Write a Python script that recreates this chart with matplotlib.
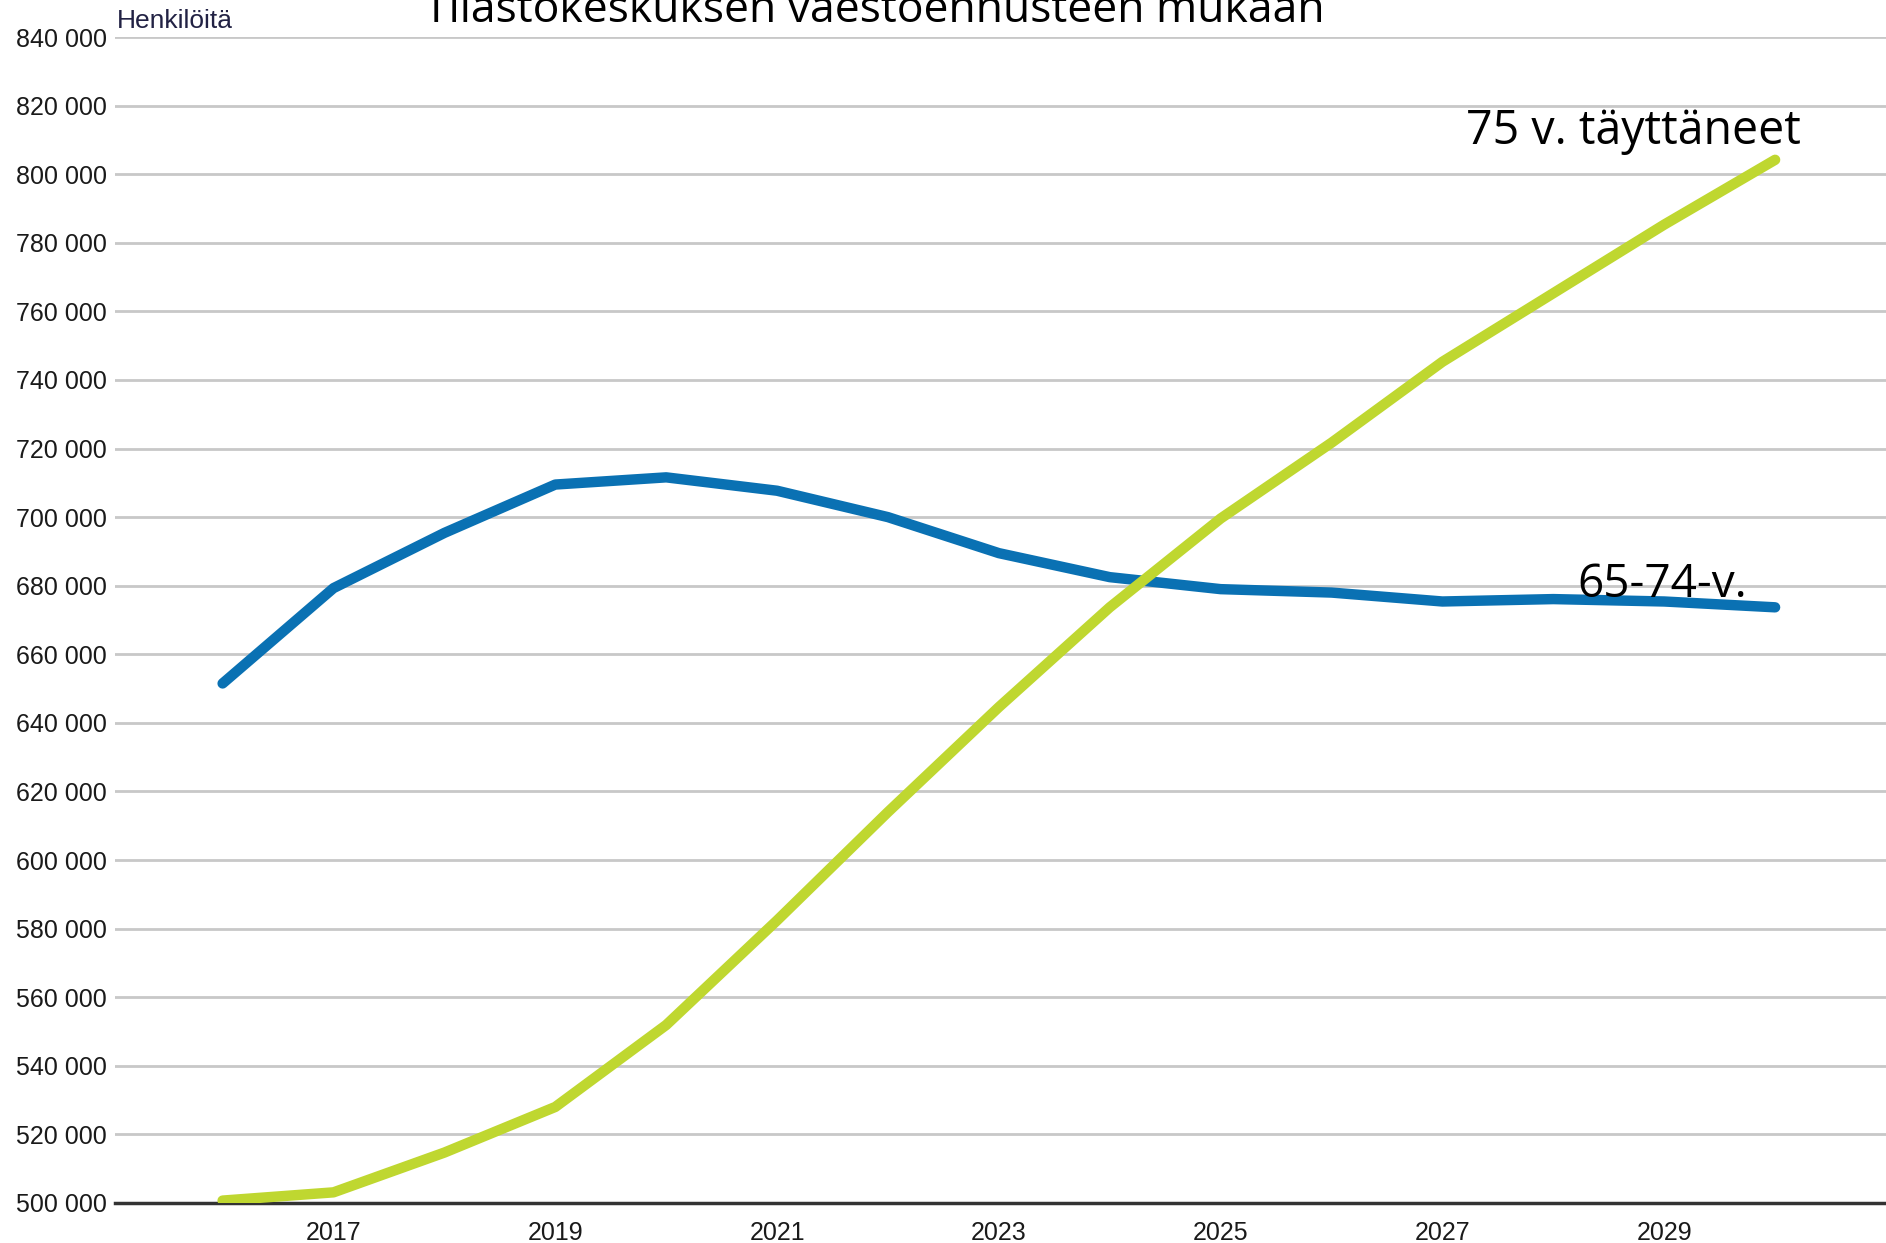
import matplotlib
matplotlib.use("Agg")
import matplotlib.pyplot as plt
from matplotlib.ticker import FuncFormatter

years = [2016, 2017, 2018, 2019, 2020, 2021, 2022, 2023,
         2024, 2025, 2026, 2027, 2028, 2029, 2030]
age_65_74 = [651500, 679300, 695400, 709500, 711600, 707700, 700000, 689500,
             682500, 679000, 678000, 675400, 676100, 675400, 673700]
age_75_plus = [500700, 503100, 514700, 528000, 551900, 582400, 614000, 644600,
               673700, 699600, 721700, 745300, 765300, 785300, 804200]
year_ticks = [2017, 2019, 2021, 2023, 2025, 2027, 2029]
y_ticks = list(range(500000, 840001, 20000))

blue = "#0a71b3"
green = "#bfd730"
tick_font = ["Liberation Sans", "DejaVu Sans"]
label_font = ["Open Sans", "DejaVu Sans"]

fig = plt.figure(figsize=(18.86, 12.43), dpi=100)
ax = fig.add_axes([0.061, 0.0322, 0.939, 0.938])

ax.plot(years, age_65_74, color=blue, linewidth=7.5, solid_capstyle="round",
        solid_joinstyle="round", zorder=3)
ax.plot(years, age_75_plus, color=green, linewidth=7.5, solid_capstyle="round",
        solid_joinstyle="round", zorder=3)

ax.set_xlim(2015.03, 2031.0)
ax.set_ylim(500000, 840000)
ax.set_yticks(y_ticks)
ax.set_xticks(year_ticks)
ax.yaxis.set_major_formatter(FuncFormatter(lambda v, p: f"{int(v):,}".replace(",", " ")))
ax.grid(axis="y", color="#c8c8c8", linewidth=2)
ax.set_axisbelow(True)

for s in ["top", "right", "left"]:
    ax.spines[s].set_visible(False)
ax.spines["bottom"].set_color("#333333")
ax.spines["bottom"].set_linewidth(2.5)
ax.tick_params(axis="both", length=0, labelcolor="#1a1a1a")
ax.tick_params(axis="y", pad=6)
ax.tick_params(axis="x", pad=13)
for lab in ax.get_yticklabels() + ax.get_xticklabels():
    lab.set_family(tick_font)
    lab.set_fontsize(18)

fig.text(117 / 1886, 1 - 21 / 1243, "Henkilöitä", family=tick_font, fontsize=19,
         color="#222244", ha="left", va="center")
fig.text(874 / 1886, 1 - 22 / 1243, "Tilastokeskuksen väestöennusteen mukaan",
         family=label_font, fontsize=32, ha="center", va="baseline")

ax.text(2028.72, 805500, "75 v. täyttäneet", family=label_font, fontsize=33.5,
        ha="center", va="bottom")
ax.text(2028.98, 673600, "65-74-v.", family=label_font, fontsize=33,
        ha="center", va="bottom")

fig.savefig("out.png", dpi=100)
